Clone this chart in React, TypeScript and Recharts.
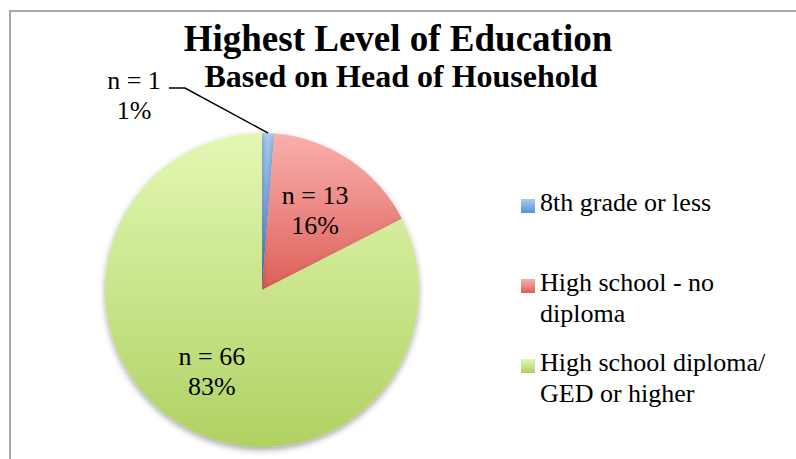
import { PieChart, Pie, Cell, Legend } from 'recharts';

const categories = ['8th grade or less', 'High school - no diploma', 'High school diploma/ GED or higher'];
const counts = [1, 13, 66];
const percents = ['1%', '16%', '83%'];
const gradTop = ['#a9cbf3', '#f9b0ae', '#e3f8b4'];
const gradBottom = ['#5894db', '#de5f58', '#b0d162'];

const data = categories.map((name, i) => ({ name, value: counts[i], pct: percents[i] }));

const RAD = Math.PI / 180;
const font = 'Liberation Serif';

const renderLabel = (props: any) => {
    const { cx, cy, midAngle, outerRadius, index } = props;
    const d = data[index];
    if (index === 0) {
        // small slice: label pulled out to the upper left with a leader line
        const sx = cx + outerRadius * Math.cos(-midAngle * RAD);
        const sy = cy + outerRadius * Math.sin(-midAngle * RAD);
        const ex = cx - 77, ey = cy - 202;
        return (
            <g>
                <polyline points={`${sx},${sy} ${ex},${ey} ${ex - 16},${ey}`} fill="none" stroke="#000" strokeWidth={1.5} />
                <text x={cx - 128} y={cy - 210} textAnchor="middle" dominantBaseline="central" fontFamily={font} fontSize={26} fill="#000">{`n = ${d.value}`}</text>
                <text x={cx - 128} y={cy - 180} textAnchor="middle" dominantBaseline="central" fontFamily={font} fontSize={26} fill="#000">{d.pct}</text>
            </g>
        );
    }
    const r = outerRadius * 0.61;
    const x = cx + r * Math.cos(-midAngle * RAD);
    const y = cy + r * Math.sin(-midAngle * RAD);
    return (
        <g>
            <text x={x} y={y - 15} textAnchor="middle" dominantBaseline="central" fontFamily={font} fontSize={26} fill="#000">{`n = ${d.value}`}</text>
            <text x={x} y={y + 15} textAnchor="middle" dominantBaseline="central" fontFamily={font} fontSize={26} fill="#000">{d.pct}</text>
        </g>
    );
};

const LegendContent = () => (
    <div style={{ fontFamily: font, fontSize: 26, color: '#000' }}>
        {categories.map((c, i) => (
            <div key={c} style={{ height: 80, display: 'flex', alignItems: 'flex-start' }}>
                <div style={{ width: 14, height: 14, marginTop: 4, marginRight: 5, flexShrink: 0, background: `linear-gradient(${gradTop[i]}, ${gradBottom[i]})` }} />
                <div style={{ width: 245, lineHeight: '31px', marginTop: -8 }}>{c}</div>
            </div>
        ))}
    </div>
);

export default function App() {
    return (
        <div style={{ position: 'absolute', left: 0, top: 0, width: 796, height: 459, overflow: 'hidden', background: '#fff' }}>
            <div style={{ position: 'absolute', left: 9, top: 10, width: 820, height: 480, border: '2px solid #a8a8a8' }} />
            <PieChart width={796} height={459} margin={{ top: 0, right: 0, bottom: 0, left: 0 }} style={{ position: 'absolute', left: 0, top: 0 }}>
                <defs>
                    {categories.map((_, i) => (
                        <linearGradient key={i} id={`g${i}`} x1="0" y1="0" x2="0" y2="1">
                            <stop offset="0%" stopColor={gradTop[i]} />
                            <stop offset="100%" stopColor={gradBottom[i]} />
                        </linearGradient>
                    ))}
                    <filter id="shadow" x="-20%" y="-20%" width="140%" height="140%">
                        <feDropShadow dx="0" dy="3" stdDeviation="3" floodColor="#000" floodOpacity="0.35" />
                    </filter>
                </defs>
                <text x={398} y={51} textAnchor="middle" fontFamily={font} fontWeight="bold" fontSize={37} fill="#000">Highest Level of Education</text>
                <text x={401} y={87} textAnchor="middle" fontFamily={font} fontWeight="bold" fontSize={32} fill="#000">Based on Head of Household</text>
                <Pie
                    data={data}
                    dataKey="value"
                    nameKey="name"
                    cx={262}
                    cy={290}
                    outerRadius={157}
                    startAngle={90}
                    endAngle={-270}
                    stroke="none"
                    label={renderLabel}
                    labelLine={false}
                    isAnimationActive={false}
                    style={{ filter: 'url(#shadow)' }}
                >
                    {data.map((_, i) => (
                        <Cell key={i} fill={`url(#g${i})`} />
                    ))}
                </Pie>
                <Legend
                    layout="vertical"
                    verticalAlign="top"
                    align="right"
                    content={LegendContent}
                    wrapperStyle={{ left: 521, top: 195, width: 275 }}
                />
            </PieChart>
        </div>
    );
}
